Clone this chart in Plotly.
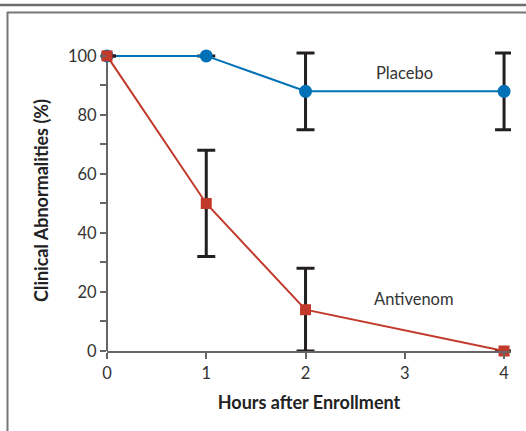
import plotly.graph_objects as go

hours = [0, 1, 2, 4]
placebo = [100, 100, 88, 88]
placebo_err = [0, 0, 13, 13]
antivenom = [100, 50, 14, 0]
antivenom_err = [0, 18, 14, 0]
x_ticks = [0, 1, 2, 3, 4]
y_ticks = [0, 20, 40, 60, 80, 100]

W, H = 526, 431
Y_TOP = 102
ML, MR, MT, MB = 107, 15, 50, 80
pw = W - ML - MR
ph = H - MT - MB

ERR = dict(type="data", symmetric=True, color="#231f20", thickness=3, width=9)

fig = go.Figure()
fig.add_trace(go.Scatter(
    x=hours, y=placebo, mode="lines+markers", name="Placebo",
    line=dict(color="#0071b6", width=2),
    marker=dict(symbol="circle", size=13, color="#0071b6"),
    error_y=dict(array=placebo_err, **ERR),
    cliponaxis=False,
))
fig.add_trace(go.Scatter(
    x=hours, y=antivenom, mode="lines+markers", name="Antivenom",
    line=dict(color="#c1392b", width=2),
    marker=dict(symbol="square", size=11, color="#c1392b"),
    error_y=dict(array=antivenom_err, **ERR),
    cliponaxis=False,
))

fig.add_annotation(x=3.0, y=94.3, text="Placebo", showarrow=False,
                   font=dict(size=16.5, color="#333333"))
fig.add_annotation(x=3.09, y=17.6, text="Antivenom", showarrow=False,
                   font=dict(size=16.5, color="#333333"))

def px2x(p):
    return (p - ML) / pw

def py2y(p):
    return (H - MB - p) / ph

# y axis line only from 0 to 100
fig.add_shape(type="line", xref="paper", yref="y", x0=0, x1=0, y0=0, y1=100,
              line=dict(color="#666666", width=2), layer="below")

fig.add_shape(type="line", xref="paper", yref="paper",
              x0=px2x(0), x1=px2x(W), y0=py2y(5), y1=py2y(5),
              line=dict(color="#6d6d6d", width=2.5))
fig.add_shape(type="line", xref="paper", yref="paper",
              x0=px2x(7), x1=px2x(W), y0=py2y(12.5), y1=py2y(12.5),
              line=dict(color="#777777", width=2))
fig.add_shape(type="line", xref="paper", yref="paper",
              x0=px2x(7.5), x1=px2x(7.5), y0=py2y(12), y1=py2y(H),
              line=dict(color="#777777", width=2))

fig.update_layout(
    width=W, height=H,
    margin=dict(l=ML, r=MR, t=MT, b=MB),
    plot_bgcolor="white", paper_bgcolor="white",
    showlegend=False,
    font=dict(family="Lato, Open Sans, sans-serif", size=16.5, color="#333333"),
)
fig.update_xaxes(
    range=[0, 4.07], tickvals=x_ticks, ticktext=[str(t) for t in x_ticks],
    showgrid=False, zeroline=False, showline=True, linecolor="#666666", linewidth=2,
    ticks="outside", ticklen=6, tickwidth=2, tickcolor="#666666",
    tickfont=dict(size=16.5, color="#333333"),
    title=dict(text="<b>Hours after Enrollment</b>", font=dict(size=18, color="#222222"), standoff=15),
)
fig.update_yaxes(
    range=[0, Y_TOP], tickvals=y_ticks,
    showgrid=False, zeroline=False, showline=False,
    ticks="outside", ticklen=6, tickwidth=1.5, tickcolor="#666666",
    minor=dict(tickvals=[10, 30, 50, 70, 90], ticks="outside", ticklen=6, tickcolor="#666666", tickwidth=1.5),
    tickfont=dict(size=16.5, color="#333333"),
    title=dict(text="<b>Clinical Abnormalities (%)</b>", font=dict(size=18, color="#222222"), standoff=14),
)

fig.write_html("out.html", config={"displayModeBar": False},
               post_script="document.body.style.margin='0';")
